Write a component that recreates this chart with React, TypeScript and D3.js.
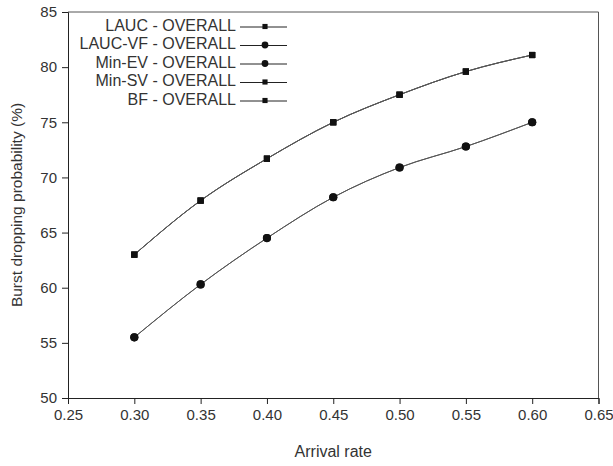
import React, { useEffect, useRef } from "react";
import * as d3 from "d3";

// arrival rates (x) and overall burst dropping probability (%) per scheme
const arrivalRates = [0.3, 0.35, 0.4, 0.45, 0.5, 0.55, 0.6];
const laucOverall = [63.0, 67.9, 71.7, 75.0, 77.5, 79.6, 81.1];
const laucVfOverall = [55.5, 60.3, 64.5, 68.2, 70.9, 72.8, 75.0];
const minEvOverall = [55.5, 60.3, 64.5, 68.2, 70.9, 72.8, 75.0];
const minSvOverall = [63.0, 67.9, 71.7, 75.0, 77.5, 79.6, 81.1];
const bfOverall = [63.0, 67.9, 71.7, 75.0, 77.5, 79.6, 81.1];

const seriesNames = [
  "LAUC - OVERALL",
  "LAUC-VF - OVERALL",
  "Min-EV - OVERALL",
  "Min-SV - OVERALL",
  "BF - OVERALL",
];
const xTicks = [0.25, 0.3, 0.35, 0.4, 0.45, 0.5, 0.55, 0.6, 0.65];
const yTicks = [50, 55, 60, 65, 70, 75, 80, 85];

const FONT = "'Liberation Sans', Arial, sans-serif";

export default function App() {
  const ref = useRef<SVGSVGElement | null>(null);

  useEffect(() => {
    const svg = d3.select(ref.current);
    svg.selectAll("*").remove();

    const W = 613,
      H = 466;
    const left = 68,
      right = 598.5,
      top = 12,
      bottom = 398;

    const x = d3.scaleLinear().domain([0.25, 0.65]).range([left, right]);
    const y = d3.scaleLinear().domain([50, 85]).range([bottom, top]);

    svg.append("rect").attr("width", W).attr("height", H).attr("fill", "#fff");

    // frame (top + right)
    svg
      .append("path")
      .attr("d", `M${left},${top}H${right}V${bottom}`)
      .attr("fill", "none")
      .attr("stroke", "#555")
      .attr("stroke-width", 1);

    const xAxis = svg
      .append("g")
      .attr("transform", `translate(0,${bottom})`)
      .call(
        d3
          .axisBottom(x)
          .tickValues(xTicks)
          .tickSize(6)
          .tickPadding(5)
          .tickFormat(d3.format(".2f"))
      );
    const yAxis = svg
      .append("g")
      .attr("transform", `translate(${left},0)`)
      .call(
        d3
          .axisLeft(y)
          .tickValues(yTicks)
          .tickSize(6)
          .tickPadding(5)
          .tickFormat(d3.format(".0f"))
      );
    [xAxis, yAxis].forEach((g) => {
      g.select(".domain").attr("stroke", "#222");
      g.selectAll(".tick line").attr("stroke", "#222");
      g.selectAll(".tick text")
        .attr("fill", "#333")
        .style("font-family", FONT)
        .style("font-size", "15px");
    });

    // axis titles
    svg
      .append("text")
      .attr("x", (left + right) / 2)
      .attr("y", 457)
      .attr("text-anchor", "middle")
      .style("font-family", FONT)
      .style("font-size", "16px")
      .attr("fill", "#333")
      .text("Arrival rate");
    svg
      .append("text")
      .attr("transform", `translate(22,${(top + bottom) / 2}) rotate(-90)`)
      .attr("text-anchor", "middle")
      .style("font-family", FONT)
      .style("font-size", "15.5px")
      .attr("fill", "#333")
      .text("Burst dropping probability (%)");

    const allSeries = [laucOverall, laucVfOverall, minEvOverall, minSvOverall, bfOverall];
    const symbols = [d3.symbolSquare, d3.symbolCircle, d3.symbolCircle, d3.symbolSquare, d3.symbolSquare];
    const sizes = [38, 52, 52, 38, 38];

    const line = d3
      .line<number>()
      .x((_, i) => x(arrivalRates[i]))
      .y((d) => y(d))
      .curve(d3.curveMonotoneX);

    allSeries.forEach((vals) => {
      svg
        .append("path")
        .attr("d", line(vals))
        .attr("fill", "none")
        .attr("stroke", "#555")
        .attr("stroke-width", 1);
    });
    allSeries.forEach((vals, si) => {
      svg
        .append("g")
        .selectAll("path")
        .data(vals)
        .enter()
        .append("path")
        .attr("transform", (d, i) => `translate(${x(arrivalRates[i])},${y(d)})`)
        .attr("d", d3.symbol().type(symbols[si]).size(sizes[si])())
        .attr("fill", "#111");
    });

    // legend
    const lg = svg.append("g");
    seriesNames.forEach((name, i) => {
      const cy = 25 + i * 18.5;
      lg.append("text")
        .attr("x", 236)
        .attr("y", cy + 5.5)
        .attr("text-anchor", "end")
        .style("font-family", FONT)
        .style("font-size", "16px")
        .attr("fill", "#333")
        .text(name);
      lg.append("line")
        .attr("x1", 240)
        .attr("x2", 287)
        .attr("y1", cy + 2)
        .attr("y2", cy + 2)
        .attr("stroke", "#222")
        .attr("stroke-width", 1);
      lg.append("path")
        .attr("transform", `translate(265,${cy + 1.5})`)
        .attr("d", d3.symbol().type(symbols[i]).size(sizes[i] * 0.7)())
        .attr("fill", "#111");
    });
  }, []);

  return (
    <svg
      ref={ref}
      width={613}
      height={466}
      style={{ position: "absolute", left: 0, top: 0 }}
    />
  );
}
